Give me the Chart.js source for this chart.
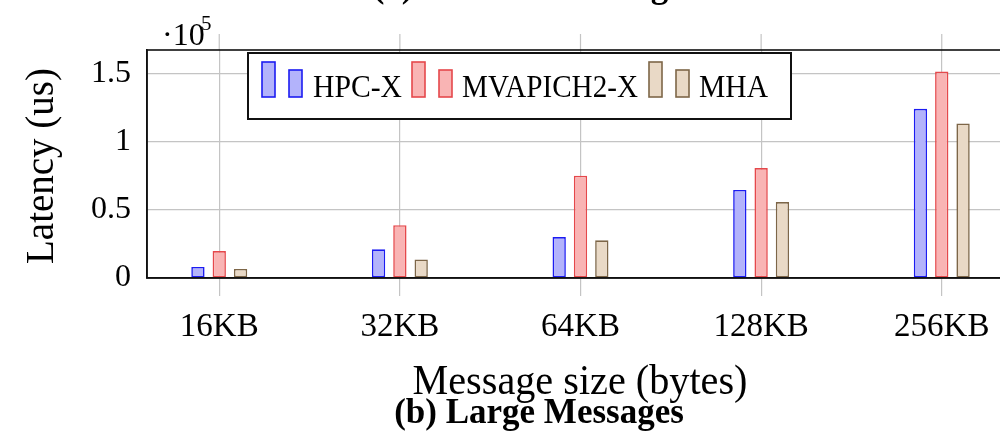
<!DOCTYPE html>
<html>
<head>
<meta charset="utf-8">
<script src="https://cdn.jsdelivr.net/npm/chart.js@4.4.1/dist/chart.umd.min.js"></script>
<style>
html,body{margin:0;padding:0;background:#fff;overflow:hidden;}
#wrap{width:1000px;height:444px;overflow:hidden;position:relative;}
canvas{display:block;}
</style>
</head>
<body>
<div id="wrap"><canvas id="c" width="1040" height="444"></canvas></div>
<script>
// values (latency in us)
var sizeLabels = ["16KB", "32KB", "64KB", "128KB", "256KB"];
var hpcx = [8100, 21000, 30000, 64500, 123900];
var mvapich = [19700, 38700, 74900, 80500, 151200];
var mha = [6600, 13600, 27600, 55600, 113200];
var yTicks = [0, 50000, 100000, 150000];
var yTickLabels = ["0", "0.5", "1", "1.5"];
var seriesNames = ["HPC-X", "MVAPICH2-X", "MHA"];

var fills = ["#b3b3fb", "#f9b4b4", "#e9d9c6"];
var borders = ["#1c1cf2", "#e5484b", "#7d6648"];
var serif = "'Liberation Serif', 'DejaVu Serif', serif";

Chart.defaults.font.family = serif;
Chart.defaults.color = "#000";

function points(arr) {
  return arr.map(function (v, i) { return { x: i, y: v }; });
}

// legend entry placement: icon x, text x, text width
var legendSlots = [[262, 313, 89], [412, 462, 176], [649, 699, 69]];

var extras = {
  id: "extras",
  afterDraw: function (chart) {
    var ctx = chart.ctx, a = chart.chartArea, xs = chart.scales.x;
    ctx.save();
    // tick marks above the top frame
    ctx.strokeStyle = "#c4c4c4";
    ctx.lineWidth = 1.2;
    sizeLabels.forEach(function (l, i) {
      var px = xs.getPixelForValue(i);
      ctx.beginPath();
      ctx.moveTo(px, a.top - 16);
      ctx.lineTo(px, a.top);
      ctx.stroke();
    });
    // frame
    ctx.strokeStyle = "#111";
    ctx.lineWidth = 1.6;
    ctx.strokeRect(a.left, a.top, a.right - a.left, a.bottom - a.top);

    // legend
    var lx = 248, ly = 53, lw = 543, lh = 66;
    ctx.fillStyle = "#fff";
    ctx.fillRect(lx, ly, lw, lh);
    ctx.strokeStyle = "#111";
    ctx.lineWidth = 2;
    ctx.strokeRect(lx, ly, lw, lh);
    ctx.font = "31px " + serif;
    ctx.textBaseline = "alphabetic";
    ctx.textAlign = "left";
    var base = 97;
    seriesNames.forEach(function (name, k) {
      var s = legendSlots[k], x = s[0];
      ctx.fillStyle = fills[k];
      ctx.strokeStyle = borders[k];
      ctx.lineWidth = 1.6;
      ctx.fillRect(x, base - 35, 13, 35);
      ctx.strokeRect(x, base - 35, 13, 35);
      ctx.fillRect(x + 27, base - 27, 13, 27);
      ctx.strokeRect(x + 27, base - 27, 13, 27);
      ctx.fillStyle = "#000";
      ctx.fillText(name, s[1], base, s[2]);
    });

    // multiplier
    ctx.fillStyle = "#000";
    ctx.font = "32px " + serif;
    ctx.fillText("\u00b710", 162, 45);
    ctx.font = "21px " + serif;
    ctx.fillText("5", 201, 30);

    // axis titles and captions
    ctx.textAlign = "center";
    ctx.font = "42px " + serif;
    ctx.fillText("Message size (bytes)", 580, 394, 335);
    ctx.save();
    ctx.translate(53, 166);
    ctx.rotate(-Math.PI / 2);
    ctx.font = "39px " + serif;
    ctx.fillText("Latency (us)", 0, 0);
    ctx.restore();
    ctx.font = "bold 35px " + serif;
    ctx.fillText("(b) Large Messages", 539, 423);
    // caption of the panel above, mostly cut off by the crop
    ctx.fillText("(a) Medium Messages", 535, -3);
    ctx.restore();
  }
};

new Chart(document.getElementById("c"), {
  type: "bar",
  data: {
    datasets: [
      { label: seriesNames[0], data: points(hpcx), backgroundColor: fills[0], borderColor: borders[0] },
      { label: seriesNames[1], data: points(mvapich), backgroundColor: fills[1], borderColor: borders[1] },
      { label: seriesNames[2], data: points(mha), backgroundColor: fills[2], borderColor: borders[2] }
    ]
  },
  options: {
    responsive: false,
    animation: false,
    layout: { padding: { top: 50, right: 26, left: 0, bottom: 0 } },
    datasets: {
      bar: { borderWidth: 1.6, borderSkipped: false, barPercentage: 0.625, categoryPercentage: 0.354 }
    },
    plugins: { legend: { display: false }, tooltip: { enabled: false } },
    scales: {
      x: {
        type: "linear",
        offset: false,
        min: -0.4,
        max: 4.4,
        afterBuildTicks: function (s) {
          s.ticks = sizeLabels.map(function (l, i) { return { value: i }; });
        },
        afterFit: function (s) { s.height = 166; },
        ticks: {
          autoSkip: false,
          maxRotation: 0,
          padding: 12,
          font: { size: 33 },
          callback: function (v) { return sizeLabels[v]; }
        },
        grid: { offset: false, color: "#c4c4c4", lineWidth: 1.2, tickLength: 18 },
        border: { color: "#111", width: 1.6 }
      },
      y: {
        min: 0,
        max: 167000,
        afterBuildTicks: function (s) {
          s.ticks = yTicks.map(function (v) { return { value: v }; });
        },
        afterFit: function (s) { s.width = 147; },
        ticks: {
          padding: 16,
          font: { size: 32 },
          callback: function (v) { return yTickLabels[yTicks.indexOf(v)]; }
        },
        grid: { color: "#c4c4c4", lineWidth: 1.2, drawTicks: false },
        border: { color: "#111", width: 1.6 }
      }
    }
  },
  plugins: [extras]
});
</script>
</body>
</html>
